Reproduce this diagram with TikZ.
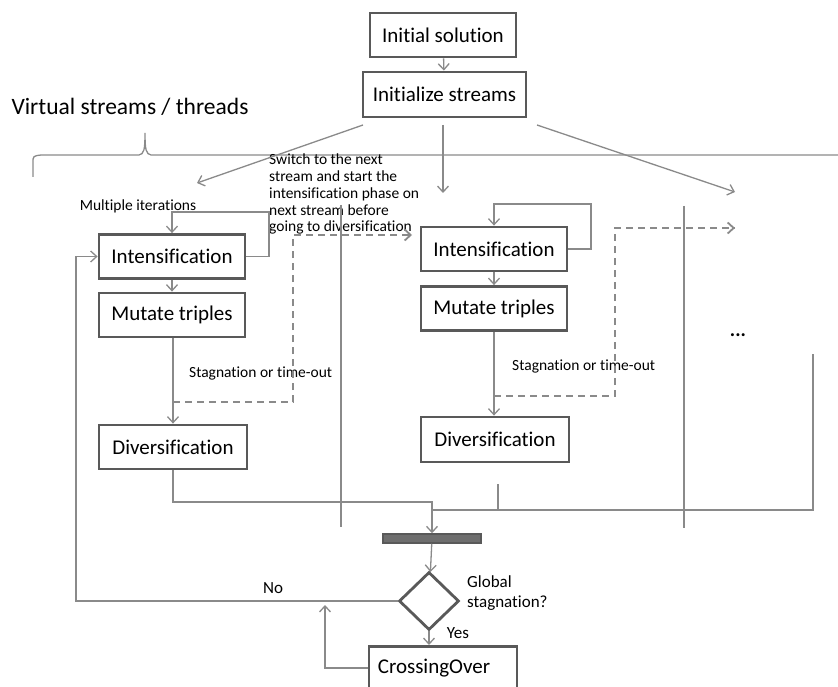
\documentclass[tikz,border=0pt]{standalone}
\usepackage{fontspec}
\setmainfont{Carlito}[Ligatures=NoCommon]
\usepackage{xcolor}
\usepackage{tikz}
\definecolor{lin}{rgb}{0.54,0.54,0.54}
\definecolor{frm}{rgb}{0.35,0.35,0.35}
\definecolor{bar}{rgb}{0.43,0.43,0.43}
\usetikzlibrary{arrows.meta,shapes.geometric,calc}

\begin{document}
\begin{tikzpicture}[x=1pt,y=1pt,
  box/.style={draw=frm,line width=2.8pt,fill=white,minimum width=146pt,minimum height=44pt,inner sep=0pt,font=\fontsize{21}{25}\selectfont},
  conn/.style={draw=lin,line width=1.3pt},
  arr/.style={conn,-{Straight Barb[length=6pt,width=11pt]}},
  dsh/.style={draw=lin,line width=1.8pt,dash pattern=on 7pt off 5pt},
  small/.style={font=\fontsize{15.5}{16.7}\selectfont,inner sep=0pt}]
\useasboundingbox (0,0) rectangle (838,-687);
\clip (0,0) rectangle (838,-687);
%\draw[step=50,gray,very thin] (0,0) grid (838,-687);

\node[box] (init) at (443,-35) {Initial solution};
\node[box,minimum width=163pt,minimum height=45pt] (istreams) at (444.5,-94.5) {Initialize streams};

\node[font=\fontsize{23.5}{28}\selectfont] (virt) at (130,-107) {Virtual streams / threads};
% brace
\draw[conn] (33,-177) -- (33,-163) .. controls (33,-156) .. (41,-155) -- (139,-155)
  .. controls (144,-154) and (145,-150) .. (145,-133)
  .. controls (145,-150) and (146,-154) .. (151,-155) -- (850,-155);

\coordinate (fan1a) at (363,-125);
\coordinate (fan1b) at (197,-183);
\coordinate (fan2a) at (443,-125);
\coordinate (fan2b) at (443,-193);
\coordinate (fan3a) at (537,-125);
\coordinate (fan3b) at (735,-192);

% first stream
\node[box] (int1) at (172,-256.5) {Intensification};
\node[box] (mut1) at (172,-315) {Mutate triples};
\node[box,minimum width=148pt] (div1) at (173,-447) {Diversification};

% second stream
\node[box] (int2) at (494,-249) {Intensification};
\node[box] (mut2) at (494,-308.5) {Mutate triples};
\node[box,minimum width=148pt,minimum height=45pt] (div2) at (495,-439.5) {Diversification};

\node[draw=frm,fill=bar,line width=1.5pt,minimum width=98pt,minimum height=9pt,inner sep=0pt] (bar) at (432,-538.5) {};
\node[diamond,draw=frm,line width=2.8pt,fill=white,minimum width=60pt,minimum height=58pt,inner sep=0pt] (diam) at (429,-601) {};
\node[box,minimum width=148pt,minimum height=46pt,anchor=north] (cross) at (443,-645) {};
\node[font=\fontsize{21}{25}\selectfont] (crosst) at (434,-668) {CrossingOver};

\node[small] (multi) at (138,-206) {Multiple iterations};
\node[small,anchor=north west,align=left] (switch) at (269,-154) {Switch to the next\\stream and start the\\intensification phase on\\next stream before\\going to diversification};
\node[small,anchor=west] (stag1) at (189,-373) {Stagnation or time-out};
\node[small,anchor=west] (stag2) at (512,-366) {Stagnation or time-out};
\node[font=\fontsize{20}{24}\selectfont\bfseries] (dots) at (738,-335) {...};
\node[small,font=\fontsize{17}{20}\selectfont] (no) at (273,-588) {No};
\node[small,anchor=west,align=left,font=\fontsize{17}{20}\selectfont] (glob) at (467,-593) {Global\\stagnation?};
\node[small,font=\fontsize{17}{20}\selectfont] (yes) at (458,-633) {Yes};

\coordinate (loop1) at (269,-212);
\coordinate (loop2) at (591,-204);
\coordinate (dash1s) at (173,-402);
\coordinate (dash1c) at (293,-235);
\coordinate (dash1e) at (412,-235);
\coordinate (dash2s) at (494,-396);
\coordinate (dash2c) at (615,-228);
\coordinate (dash2e) at (735,-228);
\coordinate (j1) at (432,-502);
\coordinate (stub2) at (498,-484);
\coordinate (j2) at (498,-510);
\coordinate (rstream) at (813,-354);
\coordinate (back) at (76,-601);
\coordinate (up) at (325,-605);

\draw[arr] (init) -- (istreams);
\draw[arr] (fan1a) -- (fan1b);
\draw[arr] (fan2a) -- (fan2b);
\draw[arr] (fan3a) -- (fan3b);

\draw[conn] (341,-205) -- (341,-527); % separators
\draw[conn] (684,-206) -- (684,-528);

\draw[arr] (int1.east) -| (loop1) -| (int1.north);
\draw[arr] (int1) -- (mut1);
\draw[arr] (mut1.south -| dash1s) -- (div1.north -| dash1s);
\draw[dsh] (dash1s) -| (dash1c) -- (dash1e);
\draw[dsh,-{Straight Barb[length=6pt,width=11pt]}] ($(dash1e)+(-2,0)$) -- (dash1e);

\draw[arr] (int2.east) -| (loop2) -| (int2.north);
\draw[arr] (int2) -- (mut2);
\draw[arr] (mut2.south -| dash2s) -- (div2.north -| dash2s);
\draw[dsh] (dash2s) -| (dash2c) -- (dash2e);
\draw[dsh,-{Straight Barb[length=6pt,width=11pt]}] ($(dash2e)+(-2,0)$) -- (dash2e);

\draw[arr] (div1.south) |- (j1) -- (bar.north);
\draw[conn] (stub2) -- (j2);
\draw[conn] (rstream) |- (bar.north |- j2);

\draw[arr] (bar) -- (diam);
\draw[arr] (diam.west) -- (back) |- (int1.west);
\draw[arr] (diam.south) -- (diam.south |- cross.north);
\draw[arr] (cross.west |- crosst) -| (up);
\end{tikzpicture}
\end{document}
